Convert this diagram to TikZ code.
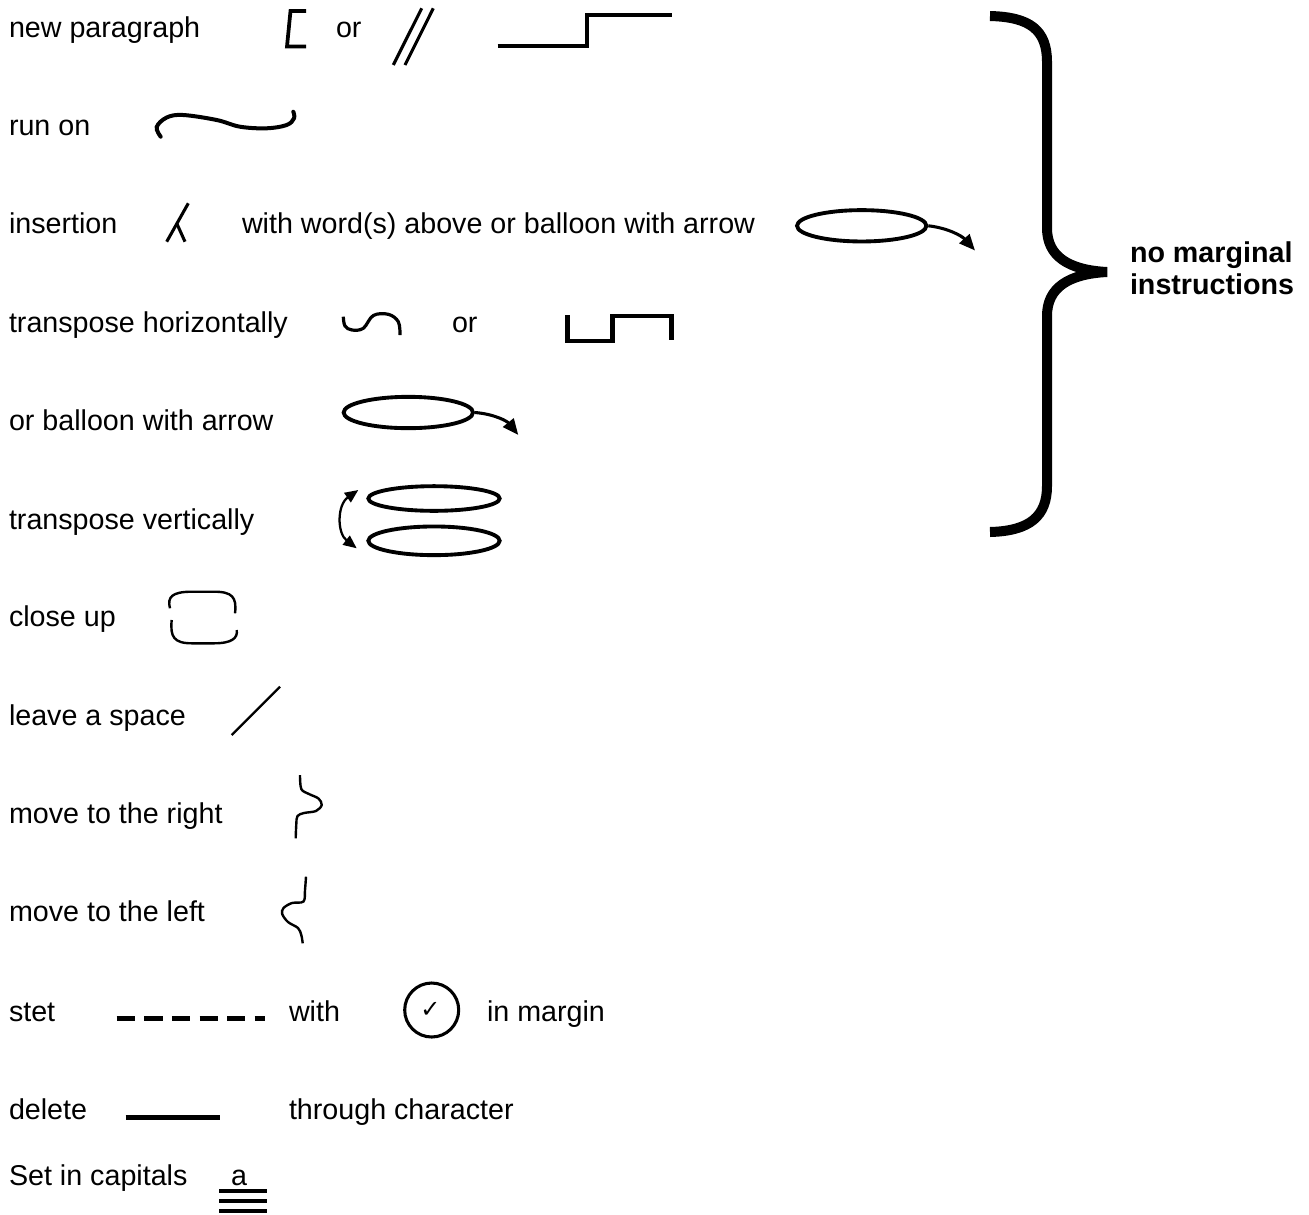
\documentclass[tikz,border=0pt]{standalone}
\usepackage{fontspec}
\setmainfont{Liberation Sans}
\newfontfamily\symfont{DejaVu Sans}
\usetikzlibrary{arrows.meta,shapes.geometric}
\tikzset{
  lbl/.style={anchor=base west,inner sep=0pt,outer sep=0pt,font=\fontsize{21.5pt}{25pt}\selectfont},
  boldlbl/.style={anchor=base west,inner sep=0pt,outer sep=0pt,font=\fontsize{21.5pt}{25pt}\selectfont\bfseries},
  thick mark/.style={line width=3pt},
  thin mark/.style={line width=1.8pt},
  balloon/.style={draw,ellipse,line width=2.9pt,inner sep=0pt,minimum width=97pt,minimum height=23.5pt},
  vballoon/.style={draw,ellipse,line width=2.9pt,inner sep=0pt,minimum width=98.5pt},
  tiparrow/.style={line width=2.3pt,-{Triangle[length=12pt,width=10pt]}},
}
\begin{document}
\begin{tikzpicture}[x=0.75pt,y=-0.75pt]
\useasboundingbox (0,0) rectangle (1309,1214);
% labels
\node[lbl] (t1) at (9,37) {new paragraph};
\node[lbl] (t2) at (9,135) {run on};
\node[lbl] (t3) at (9,233) {insertion};
\node[lbl] (t4) at (9,332) {transpose horizontally};
\node[lbl] (t5) at (9,430) {or balloon with arrow};
\node[lbl] (t6) at (9,529) {transpose vertically};
\node[lbl] (t7) at (9,626) {close up};
\node[lbl] (t8) at (9,725) {leave a space};
\node[lbl] (t9) at (9,823) {move to the right};
\node[lbl] (t10) at (9,921) {move to the left};
\node[lbl] (t11) at (9,1021) {stet};
\node[lbl] (t12) at (9,1119) {delete};
\node[lbl] (t13) at (9,1185) {Set in capitals};
\node[lbl] (or1) at (336,37) {or};
\node[lbl] (w3) at (242,233) {with word(s) above or balloon with arrow};
\node[lbl] (or4) at (452,332) {or};
\node[lbl] (with) at (289,1021) {with};
\node[lbl] (inm) at (487,1021) {in margin};
\node[lbl] (thr) at (289,1119) {through character};
\node[lbl] (cap) at (231,1185) {a};
\node[boldlbl] (nm1) at (1130,262) {no marginal};
\node[boldlbl] (nm2) at (1130,294) {instructions};
% new paragraph symbols
\draw[line width=2.8pt] (306,11) -- (290.5,11) -- (287,46.5) -- (306,46.5);
\draw[line width=2.3pt] (393.3,65) -- (421.7,8.3);
\draw[line width=2.3pt] (405,65) -- (433.3,8.3);
\draw[line width=3.3pt] (497.7,46) -- (586.7,46) -- (586.7,15) -- (671.7,15);
% run on
\draw[thick mark,line cap=round] plot[smooth,tension=0.6] coordinates {(160.7,136.7) (156.7,127) (166.7,117.5) (183,115) (216.7,120) (240,126.7) (266.7,128.3) (286.7,125) (294,118.3) (293.3,111.7)};
% insertion caret
\draw[line width=2.3pt] (188.3,203.3) -- (166.7,241.7);
\draw[line width=2.3pt] (176.7,223.3) -- (185,241.7);
% balloon 1
\node[balloon] (b1) at (861.7,225.8) {};
\coordinate (b1tip) at (975,250.5);
\draw[tiparrow] (b1.east) .. controls (948,228) and (962,236) .. (b1tip);
% transpose horizontally
\draw[line width=2.4pt] plot[smooth,tension=0.6] coordinates {(343.3,316.7) (345,326) (352,330) (363.3,328.3) (373.3,315.5) (388.3,314.3) (398.3,321.7) (400,335)};
\draw[line width=3.5pt] (567.3,315) -- (567.3,341) -- (612.7,341) -- (612.7,316) -- (671.7,316) -- (671.7,340);
% balloon 2
\node[balloon] (b2) at (408.3,412.5) {};
\coordinate (b2tip) at (518.3,435);
\draw[tiparrow] (b2.east) .. controls (494,414) and (507,421) .. (b2tip);
% transpose vertically
\node[vballoon,minimum height=18.5pt] (v1) at (434,498.5) {};
\node[vballoon,minimum height=21.5pt] (v2) at (434,540.8) {};
\coordinate (va) at (358.3,490);
\coordinate (vb) at (356.7,548.3);
\draw[line width=1.7pt,{Triangle[length=10pt,width=8.5pt]}-{Triangle[length=10pt,width=8.5pt]}] (va) .. controls (337,505) and (337,533) .. (vb);
% close up
\draw[thin mark] (170,608.3) .. controls (167,597) and (172,591.7) .. (192,591.7) -- (214,591.7) .. controls (232,591.7) and (237,597) .. (235,613.3);
\draw[thin mark] (171.7,620) .. controls (170,637) and (174,643.3) .. (192,643.3) -- (214,643.3) .. controls (232,643.3) and (238,638) .. (236.7,630);
% leave a space
\draw[line width=1.7pt] (231.7,735) -- (280,686.7);
% move to the right
\draw[thin mark] plot[smooth,tension=0.55] coordinates {(300,775) (301.3,789) (309,794) (318.5,798.5) (321.7,805) (316,811) (304,813) (297.5,816) (296.3,824) (295.7,838.3)};
% move to the left
\draw[thin mark] plot[smooth,tension=0.55] coordinates {(306,876.7) (305,890) (303.5,901.5) (292,903) (283.5,908) (282.2,914) (288,922) (298,928) (301.3,935) (302.7,943.3)};
% stet
\draw[line width=3.7pt,dash pattern=on 13.7pt off 7pt] (116.7,1018.3) -- (265,1018.3);
\node[draw,circle,line width=2.3pt,minimum size=40.5pt,inner sep=0pt] (chk) at (431.7,1010) {};
\node[inner sep=0pt,font=\symfont\fontsize{18pt}{20pt}\selectfont] (tick) at (430.5,1010) {✓};
% delete
\draw[line width=4pt] (125.7,1117.3) -- (220,1117.3);
% capitals
\draw[line width=3pt] (219.3,1191) -- (267.3,1191);
\draw[line width=3pt] (219.3,1200.7) -- (267.3,1200.7);
\draw[line width=3pt] (219.3,1210.7) -- (267.3,1210.7);
% brace
\draw[line width=7.5pt] (990,16) .. controls (1030,17) and (1047,30) .. (1047,62) -- (1047,228) .. controls (1047,256) and (1068,270) .. (1107,272) .. controls (1068,274) and (1047,288) .. (1047,316) -- (1047,486) .. controls (1047,516) and (1030,531) .. (990,532);
\end{tikzpicture}
\end{document}
